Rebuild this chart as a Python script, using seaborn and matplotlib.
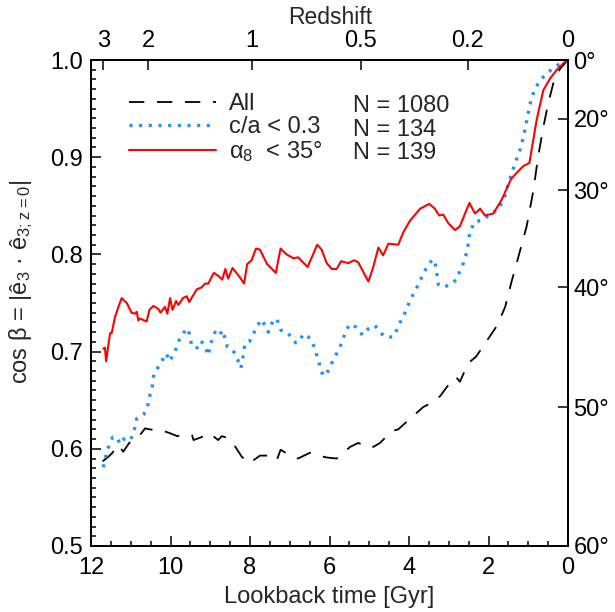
import numpy as np
import matplotlib
matplotlib.use("Agg")
import matplotlib.pyplot as plt
import seaborn as sns
from matplotlib.ticker import MultipleLocator, FixedLocator, NullLocator, FormatStrFormatter

# ---- data (lookback time [Gyr], cos beta) ----
t_all = [11.71, 11.56, 11.48, 11.31, 11.19, 11.04, 10.89, 10.77, 10.64, 10.39, 10.22,
         10.01, 9.83, 9.64, 9.46, 9.42, 9.22, 9.02, 8.80, 8.71, 8.55, 8.40, 8.21, 8.02,
         7.75, 7.54, 7.33, 7.23, 6.95, 6.79, 6.49, 6.28, 6.06, 5.82, 5.48, 5.28, 4.94,
         4.73, 4.44, 4.27, 4.00, 3.64, 3.45, 3.22, 3.04, 2.82, 2.72, 2.51, 2.31, 2.06,
         1.78, 1.58, 1.42, 1.29, 1.16, 1.04, 0.87, 0.75, 0.62, 0.50, 0.37, 0.20, 0.0]
cos_all = [0.587, 0.592, 0.595, 0.604, 0.597, 0.606, 0.610, 0.614, 0.621, 0.619, 0.619,
           0.616, 0.613, 0.615, 0.614, 0.609, 0.612, 0.616, 0.609, 0.613, 0.611, 0.604,
           0.592, 0.585, 0.593, 0.593, 0.588, 0.599, 0.592, 0.590, 0.596, 0.593, 0.591,
           0.590, 0.602, 0.606, 0.601, 0.606, 0.618, 0.620, 0.630, 0.643, 0.647, 0.654,
           0.664, 0.674, 0.669, 0.688, 0.695, 0.710, 0.727, 0.746, 0.772, 0.791, 0.811,
           0.829, 0.866, 0.901, 0.931, 0.955, 0.976, 0.991, 1.0]

t_flat = [11.69, 11.65, 11.59, 11.52, 11.45, 11.35, 11.27, 11.19, 11.04, 10.94, 10.85,
          10.68, 10.58, 10.52, 10.46, 10.42, 10.31, 10.18, 10.11, 10.01, 9.95, 9.86,
          9.78, 9.69, 9.61, 9.53, 9.46, 9.33, 9.23, 9.13, 9.05, 8.99, 8.88, 8.78, 8.69,
          8.63, 8.57, 8.44, 8.34, 8.23, 8.19, 8.13, 8.02, 7.92, 7.72, 7.62, 7.54, 7.43,
          7.33, 7.22, 7.08, 6.95, 6.85, 6.74, 6.67, 6.53, 6.42, 6.35, 6.28, 6.22, 6.16,
          6.06, 5.97, 5.86, 5.78, 5.69, 5.61, 5.50, 5.32, 5.17, 5.04, 4.86, 4.73, 4.60,
          4.40, 4.31, 4.20, 4.10, 4.02, 3.93, 3.85, 3.74, 3.64, 3.54, 3.43, 3.35, 3.26,
          3.14, 2.97, 2.80, 2.73, 2.63, 2.57, 2.52, 2.47, 2.34, 2.13, 1.96, 1.75, 1.58,
          1.46, 1.33, 1.21, 1.12, 1.04, 0.96, 0.85, 0.70, 0.54, 0.33, 0.12, 0.0]
cos_flat = [0.581, 0.589, 0.598, 0.607, 0.612, 0.612, 0.605, 0.610, 0.608, 0.614, 0.631,
            0.635, 0.643, 0.655, 0.664, 0.677, 0.684, 0.693, 0.698, 0.690, 0.696, 0.703,
            0.712, 0.717, 0.724, 0.719, 0.705, 0.704, 0.711, 0.705, 0.696, 0.708, 0.720,
            0.716, 0.722, 0.714, 0.705, 0.702, 0.695, 0.683, 0.691, 0.708, 0.710, 0.718,
            0.733, 0.727, 0.720, 0.731, 0.734, 0.722, 0.720, 0.715, 0.709, 0.711, 0.718,
            0.715, 0.709, 0.700, 0.691, 0.682, 0.675, 0.678, 0.686, 0.695, 0.701, 0.709,
            0.719, 0.728, 0.725, 0.717, 0.723, 0.727, 0.720, 0.715, 0.715, 0.722, 0.732,
            0.740, 0.748, 0.756, 0.763, 0.770, 0.781, 0.787, 0.794, 0.794, 0.769, 0.766,
            0.769, 0.774, 0.782, 0.791, 0.799, 0.808, 0.823, 0.834, 0.835, 0.842, 0.846,
            0.861, 0.878, 0.894, 0.907, 0.921, 0.937, 0.954, 0.969, 0.979, 0.986, 0.993,
            0.998, 1.0]

t_align = [11.69, 11.65, 11.62, 11.52, 11.48, 11.40, 11.31, 11.23, 11.10, 10.98, 10.89,
           10.85, 10.81, 10.77, 10.60, 10.53, 10.43, 10.31, 10.25, 10.14, 10.08, 10.01,
           9.95, 9.86, 9.80, 9.69, 9.59, 9.53, 9.34, 9.22, 9.13, 9.05, 8.91, 8.80, 8.70,
           8.62, 8.55, 8.44, 8.34, 8.23, 8.15, 8.07, 7.96, 7.85, 7.75, 7.57, 7.35, 7.23,
           7.08, 6.91, 6.79, 6.55, 6.31, 6.20, 6.07, 5.94, 5.82, 5.71, 5.53, 5.38, 5.28,
           5.02, 4.90, 4.77, 4.65, 4.52, 4.27, 4.14, 3.97, 3.72, 3.49, 3.35, 3.24, 3.14,
           3.01, 2.84, 2.72, 2.48, 2.34, 2.21, 2.09, 1.88, 1.67, 1.44, 1.29, 1.12, 0.97,
           0.91, 0.79, 0.62, 0.45, 0.28, 0.08, 0.0]
cos_align = [0.703, 0.704, 0.690, 0.719, 0.719, 0.735, 0.746, 0.755, 0.750, 0.740, 0.739,
             0.741, 0.732, 0.734, 0.731, 0.743, 0.747, 0.744, 0.740, 0.746, 0.739, 0.755,
             0.743, 0.752, 0.748, 0.755, 0.757, 0.751, 0.764, 0.766, 0.770, 0.770, 0.781,
             0.778, 0.774, 0.785, 0.775, 0.786, 0.781, 0.775, 0.770, 0.790, 0.794, 0.806,
             0.805, 0.790, 0.781, 0.806, 0.800, 0.796, 0.797, 0.787, 0.810, 0.805, 0.791,
             0.785, 0.785, 0.793, 0.791, 0.794, 0.792, 0.772, 0.787, 0.807, 0.799, 0.811,
             0.810, 0.823, 0.835, 0.847, 0.852, 0.847, 0.840, 0.841, 0.832, 0.825, 0.829,
             0.853, 0.842, 0.847, 0.840, 0.842, 0.856, 0.877, 0.884, 0.891, 0.894, 0.909,
             0.938, 0.969, 0.981, 0.990, 0.998, 1.0]

series_labels = ["All", "c/a < 0.3", "α$_8$  < 35°"]
series_counts = [1080, 134, 139]

z_tick_labels = ["3", "2", "1", "0.5", "0.2", "0"]
z_tick_lookback = [11.69, 10.56, 7.96, 5.21, 2.52, 0.0]
angle_tick_deg = [0, 20, 30, 40, 50, 60]

# ---- style ----
sns.set_style("ticks")
plt.rcParams["font.family"] = ["Liberation Sans", "DejaVu Sans"]
plt.rcParams["mathtext.default"] = "regular"
plt.rcParams["axes.linewidth"] = 1.2
plt.rcParams["axes.axisbelow"] = False

FS = 17
LFS = 17
fig = plt.figure(figsize=(6.15, 6.12), dpi=100)
ax = fig.add_axes([91 / 615, 1 - 546 / 612, 477 / 615, 486 / 612])

sns.lineplot(x=t_all, y=cos_all, ax=ax, color="black", lw=1.3,
             linestyle=(0, (8.5, 7.0)), estimator=None, sort=False)
sns.lineplot(x=t_flat, y=cos_flat, ax=ax, color="#1e90ff", lw=2.4,
             linestyle=(0, (0.9, 2.0)), estimator=None, sort=False)
sns.lineplot(x=t_align, y=cos_align, ax=ax, color="#ff0000", lw=1.5,
             estimator=None, sort=False)

ax.set_xlim(12, 0)
ax.set_ylim(0.5, 1.0)

# top redshift axis and right angle axis
ax_top = ax.twiny()
ax_r = ax.twinx()

ax.xaxis.set_major_locator(MultipleLocator(2))
ax.yaxis.set_major_locator(MultipleLocator(0.1))
ax.xaxis.set_major_formatter(FormatStrFormatter("%d"))
ax.yaxis.set_major_formatter(FormatStrFormatter("%.1f"))
ax.minorticks_on()
ax.xaxis.set_minor_locator(MultipleLocator(0.5))
ax.yaxis.set_minor_locator(MultipleLocator(0.01))
ax.tick_params(which="major", direction="in", length=7.2, width=1.1,
               labelsize=FS, colors="black")
ax.tick_params(which="minor", direction="in", length=3.6, width=1.1,
               colors="black", bottom=True, left=True)
ax.tick_params(axis="x", which="major", pad=8)
ax.tick_params(axis="y", which="major", pad=6)
ax.set_xlabel("Lookback time [Gyr]", fontsize=LFS, labelpad=5)
ax.set_ylabel("cos β = |ê$_3$ · ê$_{3; z=0}$|", fontsize=LFS)
ax.yaxis.set_label_coords(-0.118, 0.545)

ax_top.set_xlim(ax.get_xlim())
ax_top.xaxis.set_major_locator(FixedLocator(z_tick_lookback))
ax_top.xaxis.set_minor_locator(NullLocator())
ax_top.set_xticklabels(z_tick_labels)
ax_top.tick_params(axis="x", which="major", direction="in", length=7.2, width=1.1,
                   labelsize=FS, pad=6, colors="black")
fig.text(0.537, 1 - 18 / 612, "Redshift", ha="center", va="center", fontsize=16.5)

ax_r.set_ylim(ax.get_ylim())
ax_r.yaxis.set_major_locator(FixedLocator(np.cos(np.radians(angle_tick_deg))))
ax_r.yaxis.set_minor_locator(NullLocator())
ax_r.set_yticklabels([f"{a}°" for a in angle_tick_deg])
ax_r.tick_params(axis="y", which="major", direction="in", length=7.2, width=1.1,
                 labelsize=FS, pad=4, colors="black")

for a in (ax, ax_top, ax_r):
    for s in a.spines.values():
        s.set_visible(True)
        s.set_linewidth(1.2)
        s.set_color("black")

# legend
handles = ax.get_lines()[:3]
leg = ax.legend(handles, series_labels, loc="upper left",
                bbox_to_anchor=(0.079, 0.932), frameon=False, fontsize=FS,
                handlelength=3.7, handletextpad=0.55, labelspacing=0.05,
                borderpad=0, borderaxespad=0)
ypos = [0.906, 0.856, 0.808]
for yy, n in zip(ypos, series_counts):
    ax.text(0.55, yy, f"N = {n}", transform=ax.transAxes, fontsize=FS,
            va="center", ha="left")

fig.savefig("out.png", dpi=100)
